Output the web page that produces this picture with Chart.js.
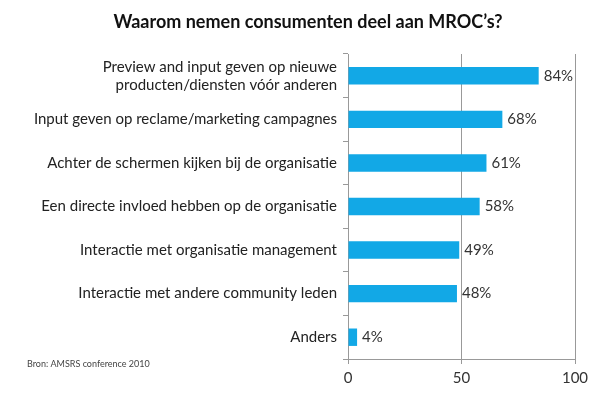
<!DOCTYPE html>
<html>
<head>
<meta charset="utf-8">
<script src="https://cdn.jsdelivr.net/npm/chart.js@4/dist/chart.umd.min.js"></script>
<style>
  html, body { margin: 0; padding: 0; background: #fff; }
  #wrap { width: 595px; height: 395px; position: relative; }
</style>
</head>
<body>
<div id="wrap"><canvas id="mrocChart" width="595" height="395"></canvas></div>
<script>
// Chart data
const categories = [
  ['Preview and input geven op nieuwe', 'producten/diensten vóór anderen'],
  'Input geven op reclame/marketing campagnes',
  'Achter de schermen kijken bij de organisatie',
  'Een directe invloed hebben op de organisatie',
  'Interactie met organisatie management',
  'Interactie met andere community leden',
  'Anders'
];
const percentages = [84, 68, 61, 58, 49, 48, 4];
const xTicks = [0, 50, 100];

const titleText = 'Waarom nemen consumenten deel aan MROC\u2019s?';
const sourceText = 'Bron: AMSRS conference 2010';

const FONT = 'Lato, "Open Sans", sans-serif';

// draws title, source note and the % labels after each bar
const extrasPlugin = {
  id: 'extras',
  afterDatasetsDraw(chart) {
    const ctx = chart.ctx;
    const meta = chart.getDatasetMeta(0);
    ctx.save();
    ctx.fillStyle = '#333';
    ctx.font = '15px ' + FONT;
    ctx.textBaseline = 'middle';
    ctx.textAlign = 'left';
    meta.data.forEach((bar, i) => {
      ctx.fillText(percentages[i] + '%', bar.x + 5, bar.y);
    });

    ctx.fillStyle = '#111';
    ctx.font = 'bold 18px ' + FONT;
    ctx.textAlign = 'center';
    ctx.fillText(titleText, 308, 22);

    ctx.fillStyle = '#444';
    ctx.font = '9px ' + FONT;
    ctx.textAlign = 'left';
    ctx.fillText(sourceText, 27, 364);
    ctx.restore();
  }
};

new Chart(document.getElementById('mrocChart'), {
  type: 'bar',
  data: {
    labels: categories,
    datasets: [{
      data: percentages,
      backgroundColor: '#12A8E6',
      borderWidth: 0,
      barPercentage: 0.4,
      categoryPercentage: 1
    }]
  },
  options: {
    indexAxis: 'y',
    responsive: false,
    animation: false,
    layout: { padding: { top: 54, right: 20, left: 0, bottom: 0 } },
    plugins: {
      legend: { display: false },
      tooltip: { enabled: false },
      title: { display: false }
    },
    scales: {
      x: {
        min: 0,
        max: 100,
        afterBuildTicks(scale) {
          scale.ticks = xTicks.map(v => ({ value: v }));
        },
        grid: {
          color: '#999',
          lineWidth: 1,
          tickLength: 5,
          drawTicks: true
        },
        border: { color: '#999' },
        ticks: {
          color: '#333',
          font: { family: FONT, size: 15 },
          padding: 5
        },
        afterFit(scale) { scale.height = 36; }
      },
      y: {
        grid: {
          offset: true,
          drawOnChartArea: false,
          color: '#999',
          tickLength: 5
        },
        border: { color: '#999' },
        ticks: {
          color: '#222',
          font: { family: FONT, size: 15 },
          padding: 6
        },
        afterFit(scale) { scale.width = 348; }
      }
    }
  },
  plugins: [extrasPlugin]
});
</script>
</body>
</html>
